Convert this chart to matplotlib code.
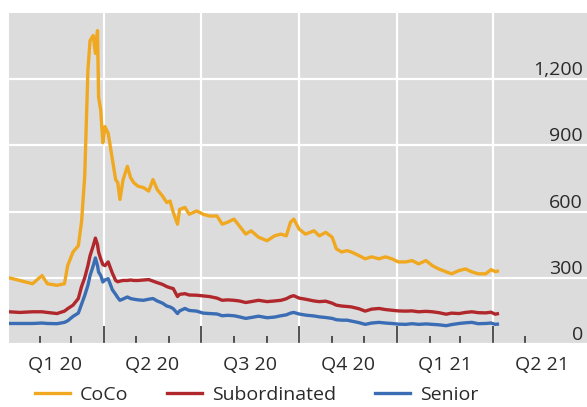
import matplotlib
matplotlib.use('Agg')
from matplotlib import pyplot as plt
import matplotlib.dates as mdates
import matplotlib.ticker as ticker
import pandas as pd

plt.rcParams['font.family'] = ['Open Sans', 'DejaVu Sans']

# spreads, basis points
dates = ['2020-01-03', '2020-01-13', '2020-01-25', '2020-02-03', '2020-02-08',
         '2020-02-17', '2020-02-24', '2020-02-27', '2020-03-03', '2020-03-08',
         '2020-03-11', '2020-03-14', '2020-03-17', '2020-03-19', '2020-03-22',
         '2020-03-24', '2020-03-26', '2020-03-27', '2020-03-29', '2020-03-31',
         '2020-04-02', '2020-04-05', '2020-04-09', '2020-04-12', '2020-04-14',
         '2020-04-16', '2020-04-19', '2020-04-23', '2020-04-26', '2020-04-29',
         '2020-05-03', '2020-05-08', '2020-05-13', '2020-05-17', '2020-05-21',
         '2020-05-26', '2020-05-30', '2020-06-02', '2020-06-05', '2020-06-09',
         '2020-06-11', '2020-06-16', '2020-06-20', '2020-06-27', '2020-07-03',
         '2020-07-09', '2020-07-16', '2020-07-21', '2020-07-26', '2020-08-01',
         '2020-08-06', '2020-08-12', '2020-08-17', '2020-08-24', '2020-09-01',
         '2020-09-08', '2020-09-14', '2020-09-19', '2020-09-23', '2020-09-26',
         '2020-10-01', '2020-10-07', '2020-10-15', '2020-10-20', '2020-10-26',
         '2020-11-01', '2020-11-05', '2020-11-10', '2020-11-15', '2020-11-19',
         '2020-11-26', '2020-12-02', '2020-12-08', '2020-12-15', '2020-12-21',
         '2020-12-27', '2021-01-02', '2021-01-09', '2021-01-15', '2021-01-21',
         '2021-01-28', '2021-02-03', '2021-02-09', '2021-02-16', '2021-02-21',
         '2021-02-28', '2021-03-06', '2021-03-12', '2021-03-18', '2021-03-25',
         '2021-03-30', '2021-04-03', '2021-04-05']

coco = [300, 288, 273, 310, 273, 266, 273, 355, 417, 445,
        552, 760, 1240, 1375, 1398, 1317, 1420, 1120, 1060, 912,
        985, 955, 835, 745, 731, 655, 745, 805, 754, 731,
        715, 709, 693, 745, 700, 670, 641, 648, 597, 543,
        610, 619, 588, 603, 588, 580, 580, 543, 552, 566,
        535, 498, 513, 484, 468, 490, 498, 490, 552, 566,
        521, 498, 513, 490, 506, 484, 431, 417, 423, 417,
        401, 386, 395, 386, 395, 386, 372, 372, 378, 363,
        378, 355, 340, 327, 318, 333, 340, 327, 318, 318,
        337, 328, 330]

subordinated = [146, 143, 146, 146, 143, 138, 149, 160, 176, 206,
                260, 300, 355, 400, 445, 480, 450, 417, 386, 360,
                355, 372, 320, 288, 282, 285, 288, 288, 290, 288,
                288, 290, 292, 285, 278, 270, 260, 255, 251, 215,
                225, 228, 222, 221, 218, 215, 208, 198, 200, 198,
                195, 188, 192, 198, 192, 195, 198, 205, 215, 219,
                208, 203, 195, 192, 194, 185, 176, 172, 170, 168,
                160, 149, 158, 161, 156, 153, 150, 149, 150, 146,
                148, 146, 142, 135, 140, 138, 143, 146, 142, 141,
                144, 135, 137]

senior = [93, 93, 93, 95, 93, 92, 98, 105, 125, 140,
          180, 220, 266, 310, 355, 390, 355, 326, 311, 281,
          290, 296, 245, 225, 210, 198, 204, 213, 206, 203,
          200, 198, 203, 206, 195, 185, 172, 168, 160, 138,
          150, 161, 152, 149, 140, 138, 136, 128, 130, 128,
          123, 116, 120, 126, 119, 122, 128, 132, 140, 143,
          136, 131, 127, 123, 120, 116, 110, 108, 108, 104,
          97, 89, 95, 98, 95, 93, 90, 89, 92, 89,
          91, 89, 87, 83, 88, 93, 96, 98, 92, 93,
          95, 89, 90]

series_names = ['CoCo', 'Subordinated', 'Senior']
series_colors = ['#f0a820', '#b0282c', '#3a6db4']
y_ticks = [0, 300, 600, 900, 1200]
quarter_starts = ['2020-01-01', '2020-04-01', '2020-07-01', '2020-10-01',
                  '2021-01-01', '2021-04-01', '2021-07-01']
quarter_labels = ['Q1 20', 'Q2 20', 'Q3 20', 'Q4 20', 'Q1 21', 'Q2 21']

x = pd.to_datetime(dates)

fig = plt.figure(figsize=(5.87, 4.07), dpi=100)
ax = fig.add_axes([9 / 587, (407 - 344) / 407, 578 / 587, (344 - 13) / 407])
ax.set_facecolor('#dcdcdc')
for s in ax.spines.values():
    s.set_visible(False)

lines = []
for vals, name, col in zip([coco, subordinated, senior], series_names, series_colors):
    ln, = ax.plot(x, vals, color=col, lw=2.4, label=name, solid_joinstyle='round')
    lines.append(ln)

ax.set_xlim(pd.Timestamp('2020-01-03'), pd.Timestamp('2021-06-28'))
ax.set_ylim(0, 1500)

# y axis: labels inside, on the right, sitting above the grid lines
ax.yaxis.tick_right()
ax.set_yticks(y_ticks)
ax.yaxis.set_major_formatter(ticker.FuncFormatter(lambda v, p: '{:,.0f}'.format(v)))
ax.tick_params(axis='y', length=0, pad=-3, labelsize=14, labelcolor='#2a2a2a')
for lab in ax.get_yticklabels():
    lab.set_horizontalalignment('right')
    lab.set_verticalalignment('bottom')

# x axis: quarter starts (long), month starts (short), ticks pointing in
qs = pd.to_datetime(quarter_starts)
ax.xaxis.set_major_locator(ticker.FixedLocator(mdates.date2num(qs[1:-1])))
months = pd.date_range('2020-02-01', '2021-05-01', freq='MS')
ax.xaxis.set_minor_locator(ticker.FixedLocator(mdates.date2num(months)))
ax.tick_params(axis='x', which='major', direction='in', length=13, width=1.3,
               color='#444444', labelbottom=False)
ax.tick_params(axis='x', which='minor', direction='in', length=6, width=1.3,
               color='#444444')

ax.grid(True, which='major', color='white', lw=1.6)
ax.set_axisbelow(True)

# quarter labels centred in each quarter
mids = [qs[i] + (qs[i + 1] - qs[i]) / 2 for i in range(len(qs) - 1)]
sec = ax.secondary_xaxis('bottom')
sec.set_xticks(mdates.date2num(pd.DatetimeIndex(mids)))
sec.set_xticklabels(quarter_labels)
sec.tick_params(length=0, pad=8.5, labelsize=14, labelcolor='#2a2a2a')
for s in sec.spines.values():
    s.set_visible(False)

leg = fig.legend(handles=lines, labels=series_names, loc='center left',
                 bbox_to_anchor=(35 / 587, 12 / 407), ncol=3, frameon=False,
                 fontsize=14, handlelength=1.8, handletextpad=0.5,
                 columnspacing=2.0, borderpad=0, borderaxespad=0)
for t in leg.get_texts():
    t.set_color('#2a2a2a')

plt.savefig('out.png', dpi=100)
